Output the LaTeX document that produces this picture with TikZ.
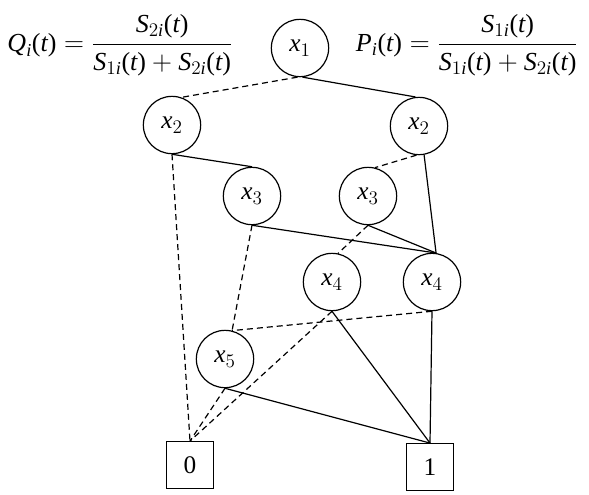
\documentclass[tikz,border=0pt]{standalone}
\usepackage{amsmath}
\usepackage{fontspec}
\setmainfont{Liberation Serif}
\newcommand{\vv}[1]{\textit{#1}}
\newcommand{\pt}{\textup{(}\vv{t}\textup{)}}
\begin{document}
\begin{tikzpicture}[x=0.75pt,y=-0.75pt,
  vnode/.style={draw,circle,line width=0.9pt,minimum size=43pt,inner sep=0pt,font=\fontsize{19}{22}\selectfont},
  tnode/.style={draw,rectangle,line width=0.9pt,minimum size=35pt,inner sep=0pt,font=\fontsize{19}{22}\selectfont},
  hi/.style={line width=0.9pt},
  lo/.style={line width=0.9pt,dash pattern=on 4.5pt off 3pt},
  formula/.style={inner sep=0pt,font=\fontsize{19.5}{23}\selectfont}]
\useasboundingbox (0,0) rectangle (589,494);
\node[formula] (qf) at (120,45) {$\vv{Q}_{\vv{i}}\pt=\dfrac{\vv{S}_{2\vv{i}}\pt}{\vv{S}_{1\vv{i}}\pt+\vv{S}_{2\vv{i}}\pt}$};
\node[formula] (pf) at (467,45) {$\vv{P}_{\vv{i}}\pt=\dfrac{\vv{S}_{1\vv{i}}\pt}{\vv{S}_{1\vv{i}}\pt+\vv{S}_{2\vv{i}}\pt}$};
\node[vnode] (x1) at (300,48) {\vv{x}$_1$};
\node[vnode] (x2l) at (172,125) {\vv{x}$_2$};
\node[vnode] (x2r) at (419,126) {\vv{x}$_2$};
\node[vnode] (x3l) at (252,196) {\vv{x}$_3$};
\node[vnode] (x3r) at (368,196) {\vv{x}$_3$};
\node[vnode] (x4l) at (332,282) {\vv{x}$_4$};
\node[vnode] (x4r) at (432,282) {\vv{x}$_4$};
\node[vnode] (x5) at (225,359) {\vv{x}$_5$};
\node[tnode] (b0) at (190,465) {0};
\node[tnode] (b1) at (430,467) {1};
\draw[lo] (x1.265) -- (x2l.71);
\draw[hi] (x1.275) -- (x2r.97);
\draw[lo] (x2l.south) -- (b0.north);
\draw[hi] (x2l.south) -- (x3l.north);
\draw[lo] (x2r.265) -- (x3r.76);
\draw[hi] (x2r.280) -- (x4r.82);
\draw[hi] (x3l.south) -- (x4r.82);
\draw[lo] (x3l.south) -- (x5.76);
\draw[hi] (x3r.south) -- (x4r.82);
\draw[lo] (x3r.south) -- (x4l.78);
\draw[lo] (x4r.south) -- (x5.76);
\draw[lo] (x4l.south) -- (b0.north);
\draw[hi] (x4l.south) -- (b1.north);
\draw[hi] (x4r.south) -- (b1.north);
\draw[lo] (x5.south) -- (b0.north);
\draw[hi] (x5.south) -- (b1.north);
\end{tikzpicture}
\end{document}
